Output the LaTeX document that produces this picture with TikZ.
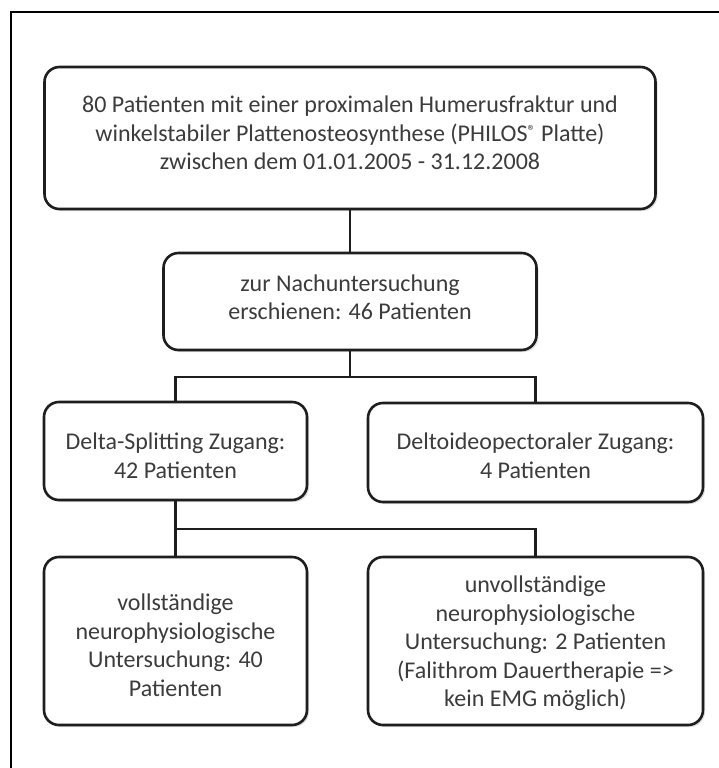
\documentclass[tikz,border=0pt]{standalone}
\usepackage{fontspec}
\setmainfont{Carlito}
\usetikzlibrary{shadows}
\definecolor{txt}{HTML}{3C3C3C}
\definecolor{edge}{HTML}{1E1E1E}
\begin{document}
\begin{tikzpicture}[x=1pt,y=-1pt,
  box/.style={draw=edge, line width=2.6pt, rounded corners=15pt, fill=white,
    inner sep=0pt,
    drop shadow={shadow xshift=2pt, shadow yshift=-2pt, opacity=0.25, fill=gray}},
  lbl/.style={align=center, text=txt, inner sep=0pt,
    font=\fontsize{24}{28.5}\selectfont},
  conn/.style={draw=edge, line width=2.6pt}]
\useasboundingbox (0,0) rectangle (719,768);
\fill[white] (0,0) rectangle (719,768);
\coordinate (fa) at (11,770);
\coordinate (fb) at (11,12);
\coordinate (fc) at (721,12);
\draw[line width=2.3pt, black] (fa) -- (fb) -- (fc);

\node[box, minimum width=611pt, minimum height=142pt] (b1) at (350,138) {};
\node[lbl] (t1) at (350,133)
  {80 Patienten mit einer proximalen Humerusfraktur und\\
   winkelstabiler Plattenosteosynthese (PHILOS{\fontsize{16}{16}\selectfont\raisebox{5pt}{®}} Platte)\\
   zwischen dem 01.01.2005 - 31.12.2008};
\node[box, minimum width=373pt, minimum height=97pt] (b2) at (350,301.5) {};
\node[lbl] (t2) at (350,297.5) {zur Nachuntersuchung\\ erschienen: 46 Patienten};
\node[box, minimum width=263pt, minimum height=98pt] (b3) at (175.5,451) {};
\node[lbl] (t3) at (175.5,455.5) {Delta-Splitting Zugang:\\ 42 Patienten};
\node[box, minimum width=335pt, minimum height=99pt] (b4) at (535.5,452.5) {};
\node[lbl] (t4) at (535.5,456) {Deltoideopectoraler Zugang:\\ 4 Patienten};
\node[box, minimum width=263pt, minimum height=168pt] (b5) at (175.5,641) {};
\node[lbl] (t5) at (175.5,645)
  {vollständige\\ neurophysiologische\\ Untersuchung: 40\\ Patienten};
\node[box, minimum width=335pt, minimum height=168pt] (b6) at (535.5,641) {};
\node[lbl] (t6) at (535.5,643.5)
  {unvollständige\\ neurophysiologische\\ Untersuchung: 2 Patienten\\
   (Falithrom Dauertherapie =>\\ kein EMG möglich)};

\coordinate (j1) at (350,377);
\coordinate (j2) at (175.5,529);
\draw[conn] (b1.south) -- (b2.north);
\draw[conn] (b2.south) -- (j1);
\draw[conn] (b3.north) |- (j1) -| (b4.north);
\draw[conn] (b3.south) -- (b5.north);
\draw[conn] (j2) -| (b6.north);
\end{tikzpicture}
\end{document}
